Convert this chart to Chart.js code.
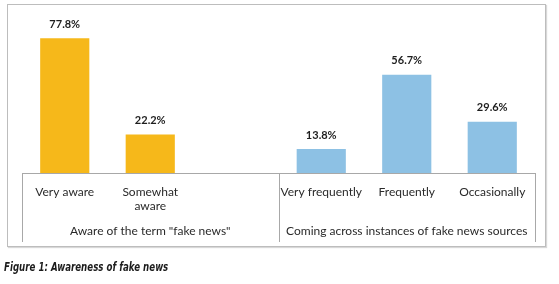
<!DOCTYPE html>
<html>
<head>
<meta charset="utf-8">
<script src="https://cdn.jsdelivr.net/npm/chart.js@4.4.1/dist/chart.umd.min.js"></script>
<style>
  html, body { margin: 0; padding: 0; background: #fff; }
  #wrap { position: relative; width: 559px; height: 284px; overflow: hidden; }
  #frame {
    position: absolute; left: 7px; top: 4px; width: 537px; height: 241px;
    border: 1px solid #bdbdbd; box-shadow: 1px 1px 1px #d8d8d8; pointer-events: none;
  }
  #chart { position: absolute; left: 0; top: 0; }
  #caption {
    position: absolute; left: 4px; top: 259px;
    font-family: "DejaVu Sans Condensed", "DejaVu Sans", sans-serif;
    font-weight: bold; font-style: italic;
    font-size: 13px; color: #1c1c1c; white-space: nowrap;
    transform: scaleX(0.74); transform-origin: 0 0;
  }
</style>
</head>
<body>
<div id="wrap">
  <div id="frame"></div>
  <canvas id="chart" width="559" height="284"></canvas>
  <div id="caption">Figure 1: Awareness of fake news</div>
</div>
<script>
// Categories (third slot of the first group is empty)
const categories = ['Very aware', ['Somewhat', 'aware'], '', 'Very frequently', 'Frequently', 'Occasionally'];
const groupLabels = ['Aware of the term "fake news"', 'Coming across instances of fake news sources'];
const values = [77.8, 22.2, null, 13.8, 56.7, 29.6];

const gold = '#F6B81A';
const blue = '#8DC1E4';
const barColors = [gold, gold, gold, blue, blue, blue];

// Value labels above the bars + group separator lines
const annotate = {
  id: 'annotate',
  afterDatasetsDraw(c) {
    const { ctx } = c;
    const meta = c.getDatasetMeta(0);
    ctx.save();
    ctx.font = 'bold 11px Lato, sans-serif';
    ctx.fillStyle = '#1e1e1e';
    ctx.textAlign = 'center';
    ctx.textBaseline = 'middle';
    meta.data.forEach((bar, i) => {
      if (values[i] == null) return;
      ctx.fillText(`${values[i].toFixed(1)}%`, bar.x, bar.y - 14);
    });
    ctx.restore();
  },
  afterDraw(c) {
    const { ctx } = c;
    const x = c.scales.x;
    const x2 = c.scales.x2;
    const mid = (x.getPixelForValue(2) + x.getPixelForValue(3)) / 2;
    ctx.save();
    ctx.strokeStyle = '#a8a8a8';
    ctx.lineWidth = 1;
    [x.left, mid, x.right].forEach((px) => {
      const p = Math.round(px) + 0.5;
      ctx.beginPath();
      ctx.moveTo(p, x.top);
      ctx.lineTo(p, x2.bottom);
      ctx.stroke();
    });
    ctx.restore();
  },
};

new Chart(document.getElementById('chart'), {
  type: 'bar',
  data: {
    labels: categories,
    datasets: [{
      data: values,
      backgroundColor: barColors,
      categoryPercentage: 1,
      barPercentage: 0.575,
    }],
  },
  options: {
    responsive: false,
    animation: false,
    layout: {
      padding: { top: 17, left: 22, right: 24, bottom: 42 },
    },
    scales: {
      y: {
        display: false,
        min: 0,
        max: 90,
      },
      x: {
        position: 'bottom',
        weight: 0,
        grid: { display: false, drawTicks: false },
        border: { display: true, color: '#a8a8a8', width: 1 },
        ticks: {
          padding: 12,
          maxRotation: 0,
          autoSkip: false,
          color: '#2a2a2a',
          font: { family: 'Lato', size: 12 },
        },
        afterFit: (scale) => { scale.height = 45; },
      },
      x2: {
        type: 'category',
        position: 'bottom',
        weight: 1,
        labels: groupLabels,
        offset: true,
        grid: { display: false, drawTicks: false },
        border: { display: false },
        ticks: {
          padding: 6,
          maxRotation: 0,
          autoSkip: false,
          color: '#2a2a2a',
          font: { family: 'Lato', size: 12 },
        },
        afterFit: (scale) => { scale.height = 24; },
      },
    },
    plugins: {
      legend: { display: false },
      tooltip: { enabled: false },
    },
  },
  plugins: [annotate],
});
</script>
</body>
</html>
